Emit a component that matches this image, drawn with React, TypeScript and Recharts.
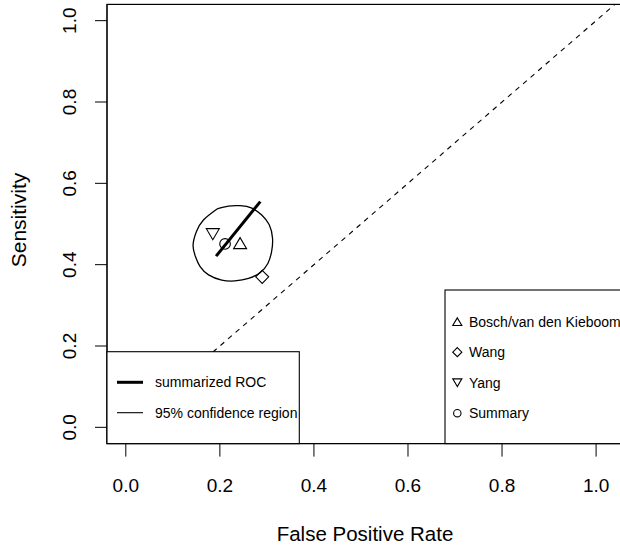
import React from 'react';
import { ComposedChart, Line, Scatter, XAxis, YAxis, ReferenceLine } from 'recharts';

// study estimates (false positive rate, sensitivity)
const studyNames = ['Bosch/van den Kieboom', 'Wang', 'Yang'];
const studyFpr = [0.243, 0.29, 0.185];
const studySens = [0.453, 0.37, 0.475];
const studyMarkers = ['up', 'diamond', 'down'];

const summaryName = 'Summary';
const summaryFpr = 0.211;
const summarySens = 0.451;

// summarized ROC segment
const srocFpr = [0.192, 0.286];
const srocSens = [0.421, 0.555];

// 95% confidence region outline
const regionFpr = [0.194, 0.218, 0.243, 0.268, 0.289, 0.305, 0.312, 0.31, 0.302, 0.286, 0.261, 0.232, 0.204, 0.176, 0.158, 0.148, 0.143, 0.15, 0.165, 0.194];
const regionSens = [0.537, 0.544, 0.545, 0.539, 0.522, 0.498, 0.465, 0.432, 0.403, 0.381, 0.366, 0.36, 0.362, 0.375, 0.395, 0.42, 0.448, 0.481, 0.51, 0.537];

const diagonal = [-0.04, 1.04];
const xTicks = [0, 0.2, 0.4, 0.6, 0.8, 1.0];
const yTicks = [0, 0.2, 0.4, 0.6, 0.8, 1.0];

const lineNames = ['summarized ROC', '95% confidence region'];

const font = '"Liberation Sans", Arial, Helvetica, sans-serif';

const toPts = (xs: number[], ys: number[]) => xs.map((x, i) => ({ x, y: ys[i] }));

function marker(kind: string, cx: number, cy: number, s: number) {
  const common = { fill: 'none', stroke: '#000', strokeWidth: 1.1 };
  if (kind === 'up') {
    return <polygon {...common} points={`${cx},${cy - 5.5 * s} ${cx - 6.5 * s},${cy + 5.5 * s} ${cx + 6.5 * s},${cy + 5.5 * s}`} />;
  }
  if (kind === 'down') {
    return <polygon {...common} points={`${cx},${cy + 5.5 * s} ${cx - 6.5 * s},${cy - 5.5 * s} ${cx + 6.5 * s},${cy - 5.5 * s}`} />;
  }
  if (kind === 'diamond') {
    return <polygon {...common} points={`${cx},${cy - 6.5 * s} ${cx + 6.5 * s},${cy} ${cx},${cy + 6.5 * s} ${cx - 6.5 * s},${cy}`} />;
  }
  return <circle {...common} cx={cx} cy={cy} r={5.3 * s} />;
}

const YTick = (props: any) => {
  const { x, y, payload } = props;
  return (
    <text x={x} y={y} transform={`rotate(-90 ${x} ${y})`} textAnchor="middle" fontSize={19} fontFamily={font} fill="#000">
      {payload.value.toFixed(1)}
    </text>
  );
};

const Overlay = () => {
  const legendItems = [
    ...studyNames.map((n, i) => ({ name: n, kind: studyMarkers[i] })),
    { name: summaryName, kind: 'circle' },
  ];
  return (
    <svg width={620} height={548} style={{ position: 'absolute', left: 0, top: 0, pointerEvents: 'none' }} fontFamily={font}>
      {/* plot box */}
      <rect x={107} y={4.4} width={600} height={439.2} fill="none" stroke="#000" strokeWidth={1.2} />

      {/* line legend */}
      <rect x={107} y={351.7} width={192.3} height={91.9} fill="#fff" stroke="#000" strokeWidth={1.1} />
      <line x1={117} x2={143} y1={382.3} y2={382.3} stroke="#000" strokeWidth={3} />
      <text x={155} y={382.3} dy="0.35em" fontSize={14}>{lineNames[0]}</text>
      <line x1={117} x2={143} y1={412.7} y2={412.7} stroke="#000" strokeWidth={1.1} />
      <text x={155} y={412.7} dy="0.35em" fontSize={14}>{lineNames[1]}</text>

      {/* point legend */}
      <rect x={445} y={290} width={200} height={153.6} fill="#fff" stroke="#000" strokeWidth={1.1} />
      {legendItems.map((it, i) => {
        const y = 321.7 + i * 30.5;
        return (
          <g key={it.name}>
            {marker(it.kind, 457.3, y, 0.7)}
            <text x={469} y={y} dy="0.35em" fontSize={14}>{it.name}</text>
          </g>
        );
      })}

      {/* axis titles */}
      <text x={365} y={541} textAnchor="middle" fontSize={20.5}>False Positive Rate</text>
      <text x={25.6} y={220} transform="rotate(-90 25.6 220)" textAnchor="middle" fontSize={21}>Sensitivity</text>
    </svg>
  );
};

export default function App() {
  const region = toPts(regionFpr, regionSens);
  const sroc = toPts(srocFpr, srocSens);
  return (
    <div style={{ position: 'fixed', left: 0, top: 0, width: 620, height: 548, overflow: 'hidden', background: '#fff' }}>
      <ComposedChart width={660} height={548} margin={{ top: 4.4, right: 10, bottom: 0, left: 0 }}>
        <XAxis
          type="number"
          dataKey="x"
          domain={[-0.04, 1.1146]}
          allowDataOverflow
          ticks={xTicks}
          interval={0}
          tickFormatter={(v: number) => v.toFixed(1)}
          tickSize={13}
          tickMargin={22.4}
          height={104.4}
          stroke="#000"
          tick={{ fill: '#000', fontSize: 19, fontFamily: font }}
        />
        <YAxis
          type="number"
          dataKey="y"
          domain={[-0.04, 1.04]}
          allowDataOverflow
          ticks={yTicks}
          interval={0}
          tickSize={12}
          tickMargin={19}
          width={107}
          stroke="#000"
          tick={<YTick />}
        />
        <ReferenceLine
          segment={[{ x: diagonal[0], y: diagonal[0] }, { x: diagonal[1], y: diagonal[1] }]}
          stroke="#000"
          strokeWidth={1.1}
          strokeDasharray="5 5"
        />
        <Line data={region} dataKey="y" type="natural" stroke="#000" strokeWidth={1.3} dot={false} isAnimationActive={false} />
        <Line data={sroc} dataKey="y" type="linear" stroke="#000" strokeWidth={3} dot={false} isAnimationActive={false} />
        {studyNames.map((n, i) => (
          <Scatter
            key={n}
            name={n}
            data={[{ x: studyFpr[i], y: studySens[i] }]}
            dataKey="y"
            isAnimationActive={false}
            shape={(p: any) => marker(studyMarkers[i], p.cx, p.cy, 1)}
          />
        ))}
        <Scatter
          name={summaryName}
          data={[{ x: summaryFpr, y: summarySens }]}
          dataKey="y"
          isAnimationActive={false}
          shape={(p: any) => marker('circle', p.cx, p.cy, 1)}
        />
      </ComposedChart>
      <Overlay />
    </div>
  );
}
